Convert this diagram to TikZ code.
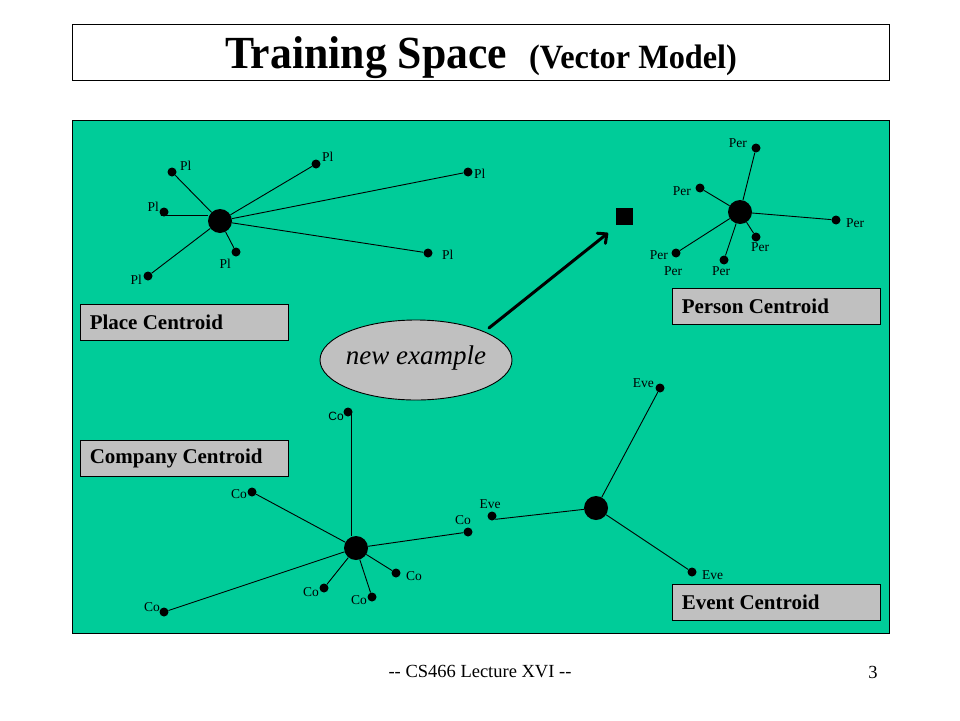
\documentclass[tikz,border=0pt]{standalone}
\usepackage{fontspec}
\setmainfont{Liberation Serif}
\setsansfont{Liberation Sans}
\newfontfamily\titlefont[FakeStretch=0.95]{Liberation Serif}
\usetikzlibrary{arrows.meta,shapes.geometric}
\definecolor{bggreen}{RGB}{0,204,153}
\definecolor{boxgray}{RGB}{192,192,192}
\tikzset{
  pt/.style={circle,fill=black,inner sep=0pt,minimum size=9pt},
  cent/.style={circle,fill=black,inner sep=0pt,minimum size=24pt},
  lbl/.style={inner sep=0pt,font=\fontsize{13.5}{13.5}\selectfont},
  sp/.style={draw=black,line width=0.9pt},
  legend/.style={draw=black,line width=0.9pt,fill=boxgray,minimum width=208pt,minimum height=36pt,inner sep=0pt},
  legtext/.style={anchor=west,inner sep=0pt,font=\fontsize{21}{21}\selectfont\bfseries}
}
\begin{document}
\begin{tikzpicture}[x=1pt,y=-1pt]
\useasboundingbox (0,0) rectangle (960,720);
\fill[white] (0,0) rectangle (960,720);
% title
\node[draw=black,line width=0.9pt,minimum width=817pt,minimum height=56pt,inner sep=0pt] (titlebox) at (480.5,52) {};
\node[inner sep=0pt,anchor=base] (title) at (481,68) {\titlefont\bfseries\fontsize{46}{46}\selectfont Training Space\hspace{22pt}\fontsize{34}{34}\selectfont (Vector Model)};
% main area
\node[draw=black,line width=0.9pt,fill=bggreen,minimum width=817pt,minimum height=513pt,inner sep=0pt] (area) at (480.5,376.5) {};
% legends
\node[legend] (placebox) at (184,322) {};
\node[legtext] at ([xshift=10pt]placebox.west) {Place Centroid};
\node[legend] (compbox) at (184,458) {};
\node[legtext] at ([xshift=10pt]compbox.west) {Company Centroid};
\node[legend] (persbox) at (776,306) {};
\node[legtext] at ([xshift=10pt]persbox.west) {Person Centroid};
\node[legend] (evbox) at (776,602) {};
\node[legtext] at ([xshift=10pt]evbox.west) {Event Centroid};
% ellipse
\node[draw=black,line width=0.9pt,fill=boxgray,ellipse,minimum width=192pt,minimum height=80pt,inner sep=0pt] (newex) at (416,360) {};
\node[inner sep=0pt,font=\fontsize{27}{27}\selectfont\itshape] (newextxt) at (416,358) {new example};
% square + arrow
\node[fill=black,minimum size=17pt,inner sep=0pt] (sq) at (624.5,216.5) {};
\coordinate (arrs) at (489,328);
\coordinate (arre) at (608,233);
\draw[line width=3pt,line cap=round,-{Straight Barb[length=7pt,width=13pt,line cap=round,line join=round]}] (arrs) -- (arre);
% place cluster
\node[cent] (pc) at (220,221) {};
\node[pt] (p1) at (172,172) {}; \node[lbl,anchor=west] at (180,166) {Pl};
\node[pt] (p2) at (164,212) {}; \node[lbl,anchor=east] at (159,207) {Pl};
\node[pt] (p3) at (148,276) {}; \node[lbl,anchor=east] at (142,280) {Pl};
\node[pt] (p4) at (236,252) {}; \node[lbl,anchor=east] at (231,264) {Pl};
\node[pt] (p5) at (316,164) {}; \node[lbl,anchor=west] at (322,157) {Pl};
\node[pt] (p6) at (468,172) {}; \node[lbl,anchor=west] at (474,174) {Pl};
\node[pt] (p7) at (428,253) {}; \node[lbl,anchor=west] at (442,255) {Pl};
\draw[sp] (p2.south west) -- (p2.south west -| pc.west);
\foreach \p in {p1,p3,p4,p5,p6,p7} \draw[sp] (pc) -- (\p);
% person cluster
\node[cent] (ec) at (740,212) {};
\node[pt] (e1) at (756,148) {}; \node[lbl,anchor=east] at (747,143) {Per};
\node[pt] (e2) at (700,188) {}; \node[lbl,anchor=east] at (691,191) {Per};
\node[pt] (e3) at (836,220) {}; \node[lbl,anchor=west] at (846,223) {Per};
\node[pt] (e4) at (756,237) {}; \node[lbl] at (760,247) {Per};
\node[pt] (e5) at (724,260) {}; \node[lbl] at (721,271) {Per};
\node[pt] (e6) at (676,253) {}; \node[lbl,anchor=east] at (668,255) {Per};
\node[lbl] (e7) at (673,271) {Per};
\foreach \p in {e1,e2,e3,e4,e5,e6} \draw[sp] (ec) -- (\p);
% company cluster
\node[cent] (cc) at (356,548) {};
\node[pt] (c1) at (348,412) {}; \node[lbl,anchor=east,font=\sffamily\fontsize{12}{12}\selectfont] at (344,416) {Co};
\node[pt] (c2) at (252,492) {}; \node[lbl,anchor=east] at (247,494) {Co};
\node[pt] (c3) at (468,532) {}; \node[lbl] at (463,520) {Co};
\node[pt] (c4) at (396,573) {}; \node[lbl,anchor=west] at (406,576) {Co};
\node[pt] (c5) at (372,597) {}; \node[lbl,anchor=east] at (367,600) {Co};
\node[pt] (c6) at (324,588) {}; \node[lbl,anchor=east] at (319,592) {Co};
\node[pt] (c7) at (164,612) {}; \node[lbl,anchor=east] at (160,607) {Co};
\draw[sp] ([xshift=3.5pt]c1.center) -- ([xshift=3.5pt]c1.center |- cc.north);
\foreach \p in {c2,c3,c4,c5,c6,c7} \draw[sp] (cc) -- (\p);
% event cluster
\node[cent] (vc) at (596,508) {};
\node[pt] (v1) at (660,388) {}; \node[lbl,anchor=east] at (654,383) {Eve};
\node[pt] (v2) at (492,516) {}; \node[lbl] at (490,504) {Eve};
\node[pt] (v3) at (692,572) {}; \node[lbl,anchor=west] at (702,575) {Eve};
\draw[sp] (v2.south east) -- (vc);
\foreach \p in {v1,v3} \draw[sp] (vc) -- (\p);
% footer
\node[inner sep=0pt,font=\fontsize{18.5}{18.5}\selectfont] (foot) at (480,672) {-{}- CS466 Lecture XVI -{}-};
\node[inner sep=0pt,font=\fontsize{18.5}{18.5}\selectfont] (pg) at (873,672) {3};
\end{tikzpicture}
\end{document}
